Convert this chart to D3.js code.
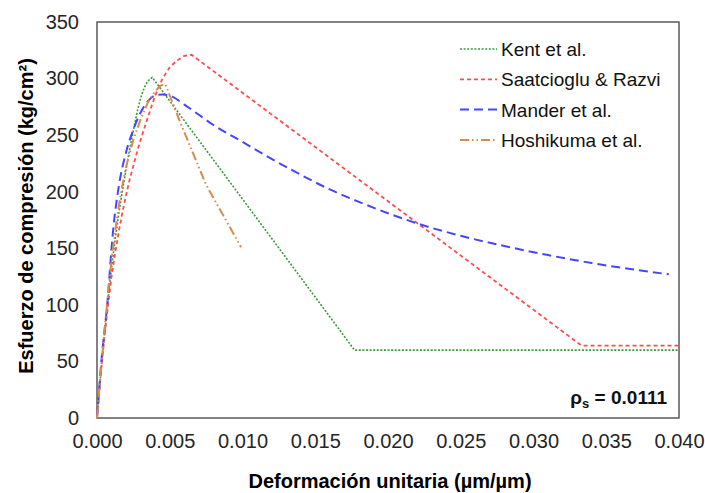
<!DOCTYPE html>
<html>
<head>
<meta charset="utf-8">
<script src="https://cdn.jsdelivr.net/npm/d3@7"></script>
<style>
  body { margin: 0; background: #fff; }
  text { font-family: "Liberation Sans", Arial, sans-serif; }
</style>
</head>
<body>
<div id="chart"></div>
<script>
// curvas esfuerzo-deformación (deformación, esfuerzo kg/cm2)
const kent = [[0,0],[0.00025,38],[0.0005,72],[0.00075,104],[0.001,133],[0.00125,158],[0.0015,181],[0.00175,201],[0.002,220],
  [0.00225,238],[0.0025,254],[0.00275,270],[0.003,283],[0.00325,292],[0.0035,298],[0.0038,301],[0.0177,60],[0.040,60]];
const saatcioglu = [[0,0],[0.00025,38],[0.0005,70],[0.00075,99],[0.001,125],[0.00125,146],[0.0015,165],[0.00175,182],[0.002,197],
  [0.00225,211],[0.0025,223],[0.00275,235],[0.003,246],[0.0035,266],[0.004,285],[0.0045,300],[0.005,310],[0.0055,316],
  [0.006,320],[0.0065,321],[0.0333,64],[0.040,64]];
const mander = [[0,0],[0.0003,50],[0.0007,100],[0.0011,165],[0.0015,205],[0.002,235],[0.0025,255],[0.003,270],[0.0035,280],
  [0.004,285],[0.0045,286],[0.005,285],[0.006,277],[0.007,268],[0.008,259],[0.010,244],[0.012,229],[0.014,215],[0.016,202],
  [0.018,191],[0.020,181],[0.022,172],[0.025,161],[0.028,152],[0.031,144],[0.034,137],[0.037,131],[0.0393,127]];
const hoshikuma = [[0,0],[0.00025,40],[0.0005,75],[0.00075,109],[0.001,140],[0.00125,165],[0.0015,188],[0.00175,206],[0.002,222],
  [0.0025,246],[0.003,264],[0.0035,279],[0.004,289],[0.0044,294],[0.0047,295],[0.0057,262],[0.0075,206],[0.0099,151]];

const seriesNames = ["Kent et al.", "Saatcioglu & Razvi", "Mander et al.", "Hoshikuma et al."];
const seriesData = [kent, saatcioglu, mander, hoshikuma];
const xTicks = [0, 0.005, 0.010, 0.015, 0.020, 0.025, 0.030, 0.035, 0.040];
const yTicks = [0, 50, 100, 150, 200, 250, 300, 350];

const styles = [
  { color: "#3a9a3a", dash: "2,1.6", w: 1.6, curve: d3.curveLinear },
  { color: "#ff4d4d", dash: "4,3", w: 1.8, curve: d3.curveLinear },
  { color: "#4646ff", dash: "9,5", w: 2, curve: d3.curveMonotoneX },
  { color: "#d98a4e", dash: "9,3,1.5,3,1.5,3", w: 2, curve: d3.curveLinear }
];

const width = 705, height = 493;
const plot = { left: 97, right: 679, top: 22, bottom: 418 };

const svg = d3.select("#chart").append("svg")
  .attr("width", width).attr("height", height);

const x = d3.scaleLinear().domain([0, 0.04]).range([plot.left, plot.right]);
const y = d3.scaleLinear().domain([0, 350]).range([plot.bottom, plot.top]);

// cuadro del gráfico
svg.append("rect")
  .attr("x", plot.left).attr("y", plot.top)
  .attr("width", plot.right - plot.left).attr("height", plot.bottom - plot.top)
  .attr("fill", "none").attr("stroke", "#595959").attr("stroke-width", 1.5);

const xAxis = svg.append("g")
  .attr("transform", `translate(0,${plot.bottom})`)
  .call(d3.axisBottom(x).tickValues(xTicks).tickFormat(d3.format(".3f")).tickSize(0).tickPadding(16));
const yAxis = svg.append("g")
  .attr("transform", `translate(${plot.left},0)`)
  .call(d3.axisLeft(y).tickValues(yTicks).tickSize(0).tickPadding(18));
[xAxis, yAxis].forEach(g => {
  g.select(".domain").remove();
  g.selectAll("text").attr("font-size", 20).attr("fill", "#262626")
    .style("font-family", "Liberation Sans, Arial, sans-serif");
});

seriesData.forEach((s, i) => {
  const line = d3.line().x(d => x(d[0])).y(d => y(d[1])).curve(styles[i].curve);
  svg.append("path")
    .datum(s)
    .attr("d", line)
    .attr("fill", "none")
    .attr("stroke", styles[i].color)
    .attr("stroke-width", styles[i].w)
    .attr("stroke-dasharray", styles[i].dash);
});

// leyenda
const legend = svg.append("g");
seriesNames.forEach((name, i) => {
  const ly = 49 + i * 30.3;
  legend.append("line")
    .attr("x1", 460).attr("x2", 497).attr("y1", ly).attr("y2", ly)
    .attr("stroke", styles[i].color)
    .attr("stroke-width", styles[i].w)
    .attr("stroke-dasharray", styles[i].dash);
  legend.append("text")
    .attr("x", 501).attr("y", ly + 7)
    .attr("font-size", 19).attr("fill", "#111")
    .text(name);
});

// títulos de ejes
svg.append("text")
  .attr("x", 390).attr("y", 488)
  .attr("text-anchor", "middle")
  .attr("font-size", 20).attr("font-weight", "bold")
  .text("Deformación unitaria (µm/µm)");

svg.append("text")
  .attr("transform", `translate(33,216) rotate(-90)`)
  .attr("text-anchor", "middle")
  .attr("font-size", 20).attr("font-weight", "bold")
  .text("Esfuerzo de compresión (kg/cm²)");

// cuantía volumétrica
const rho = svg.append("text")
  .attr("x", 667).attr("y", 404)
  .attr("text-anchor", "end")
  .attr("font-size", 19).attr("font-weight", "bold").attr("fill", "#111");
rho.append("tspan").text("ρ");
rho.append("tspan").attr("font-size", 13).attr("dy", 4).text("s");
rho.append("tspan").attr("dy", -4).text(" = 0.0111");
</script>
</body>
</html>
